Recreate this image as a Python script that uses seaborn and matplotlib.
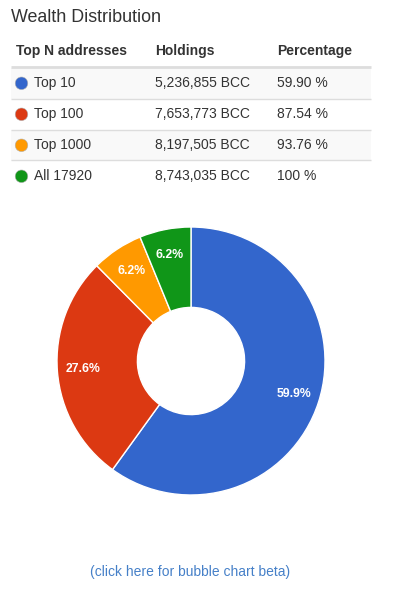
import matplotlib
matplotlib.use("Agg")
import matplotlib.pyplot as plt
import seaborn as sns
import pandas as pd
from matplotlib.patches import Rectangle

sns.set_theme(style="white")
plt.rcParams['font.family'] = ['Liberation Sans', 'DejaVu Sans']

# ---- data ----
title = "Wealth Distribution"
headers = ["Top N addresses", "Holdings", "Percentage"]
groups = ["Top 10", "Top 100", "Top 1000", "All 17920"]
holdings = ["5,236,855 BCC", "7,653,773 BCC", "8,197,505 BCC", "8,743,035 BCC"]
percentages = ["59.90 %", "87.54 %", "93.76 %", "100 %"]
colors = ["#3366cc", "#dc3912", "#ff9900", "#109618"]
slice_shares = [59.9, 27.6, 6.2, 6.2]
link_text = "(click here for bubble chart beta)"

W, H = 394, 602
fig = plt.figure(figsize=(W / 100, H / 100), dpi=100)
fig.patch.set_facecolor("white")

bg = fig.add_axes([0, 0, 1, 1])
bg.set_xlim(0, W)
bg.set_ylim(H, 0)
bg.axis("off")

txt = "#333333"
bg.text(11, 17, title, fontsize=12.9, color=txt, va="center", ha="left")

col_x = [16, 155, 277]
for x, h in zip(col_x, headers):
    bg.text(x, 51, h, fontsize=10, fontweight="bold", color=txt, va="center", ha="left")

row_top = [68, 99, 130, 161]
row_h = 31
row_cy = [83.3, 114.3, 145.3, 176.3]
for i, top in enumerate(row_top):
    if i % 2 == 0:
        bg.add_patch(Rectangle((11, top), 360, row_h, facecolor="#f9f9f9", edgecolor="none", zorder=0))
bg.plot([11, 371], [67, 67], color="#dddddd", lw=2, solid_capstyle="butt", zorder=1)
for y in [98.7, 129.5, 160.4]:
    bg.plot([11, 371], [y, y], color="#dddddd", lw=1, solid_capstyle="butt", zorder=1)

dots = pd.DataFrame({"x": [21.5] * 4, "y": row_cy, "g": groups})
sns.scatterplot(data=dots, x="x", y="y", hue="g", palette=colors, s=82,
                edgecolor="#b0b0b0", linewidth=0.4, legend=False, ax=bg, zorder=3)
bg.set_xlim(0, W)
bg.set_ylim(H, 0)
bg.axis("off")

for cy, g, hv, p in zip(row_cy, groups, holdings, percentages):
    bg.text(34, cy, g, fontsize=10, color=txt, va="center", ha="left")
    bg.text(col_x[1], cy, hv, fontsize=10, color=txt, va="center", ha="left")
    bg.text(col_x[2], cy, p, fontsize=10, color=txt, va="center", ha="left")

bg.text(190.5, 572, link_text, fontsize=10, color="#4680c8", va="center", ha="center")

# ---- pie ----
cx, cy, r = 191, 361, 134
pie_ax = fig.add_axes([(cx - r) / W, (H - cy - r) / H, 2 * r / W, 2 * r / H])
pie_ax.pie(slice_shares, colors=colors, startangle=90, counterclock=False,
           labels=[f"{v}%" for v in slice_shares], labeldistance=0.81,
           radius=1.0,
           wedgeprops=dict(width=0.6, edgecolor="white", linewidth=1),
           textprops=dict(color="white", fontsize=8.8, fontweight="bold",
                          ha="center", va="center"))
pie_ax.set_xlim(-1, 1)
pie_ax.set_ylim(-1, 1)
pie_ax.axis("off")

fig.savefig("out.png", dpi=100, facecolor="white")
